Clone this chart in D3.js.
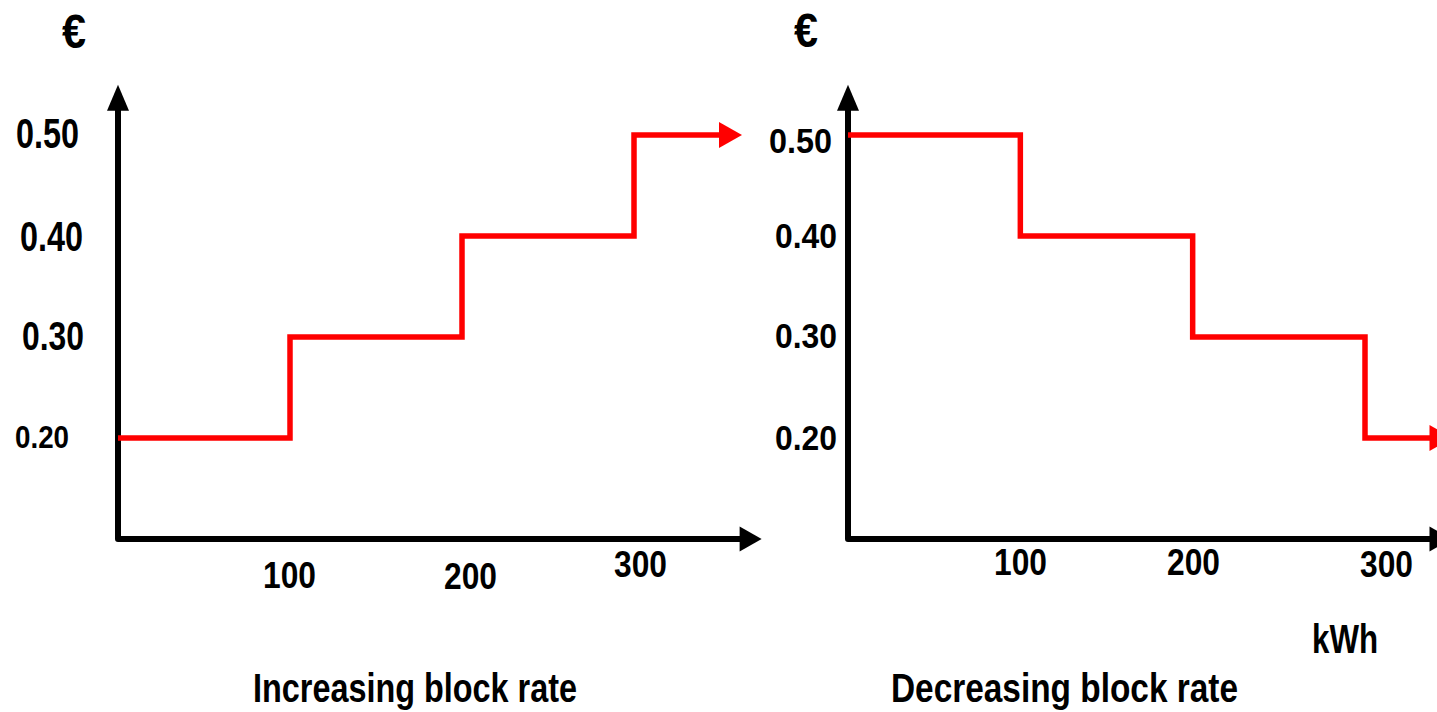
<!DOCTYPE html>
<html>
<head>
<meta charset="utf-8">
<script src="https://cdn.jsdelivr.net/npm/d3@7"></script>
<style>
  html, body { margin: 0; padding: 0; background: #fff; }
  svg { display: block; }
  text { font-family: "Liberation Sans Narrow", "Liberation Sans", Arial, sans-serif; font-weight: bold; fill: #000; }
</style>
</head>
<body>
<svg id="chart" width="1437" height="712"></svg>
<script>
// ---------------- DATA ----------------
const blockStarts = [0, 100, 200, 300];            // kWh where each block begins
const increasingRates = [0.20, 0.30, 0.40, 0.50];  // €/kWh per block
const decreasingRates = [0.50, 0.40, 0.30, 0.20];  // €/kWh per block
const increasingEnd = 350;                         // kWh where the last block line ends (arrow)
const decreasingEnd = 338;
const xTickValues = [100, 200, 300];
const yTickValues = [0.50, 0.40, 0.30, 0.20];
const xTickLabels = ["100", "200", "300"];
const yTickLabels = ["0.50", "0.40", "0.30", "0.20"];
const panelTitles = ["Increasing block rate", "Decreasing block rate"];
const yUnit = "€";
const xUnit = "kWh";

// ---------------- LAYOUT ----------------
const svg = d3.select("#chart");
const y = d3.scaleLinear().domain([0.1, 0.5]).range([539, 135]);

const panels = [
  {
    rates: increasingRates, end: increasingEnd,
    x: d3.scaleLinear().domain([0, 300]).range([118, 634]),
    xAxisEnd: 362, yAxisEnd: 0.525,
    title: { x: 253, y: 702, w: 324 },
    unit: { x: 62, y: 48, w: 24 },
    yLab: [ {dx: 79, dy: 13, s: 42, w: 63}, {dx: 83, dy: 15, s: 42, w: 63},
            {dx: 84, dy: 13, s: 41, w: 62}, {dx: 69, dy: 10, s: 32, w: 54} ],
    xLab: [ {cx: 290, by: 588}, {cx: 471, by: 589}, {cx: 641, by: 577} ]
  },
  {
    rates: decreasingRates, end: decreasingEnd,
    x: d3.scaleLinear().domain([0, 300]).range([848, 1365]),
    xAxisEnd: 338, yAxisEnd: 0.525,
    title: { x: 891, y: 702, w: 347 },
    unit: { x: 794, y: 47, w: 24 },
    yLab: [ {dx: 832, dy: 18, s: 35, w: 63}, {dx: 837, dy: 12, s: 35, w: 62},
            {dx: 837, dy: 11, s: 35, w: 62}, {dx: 837, dy: 12, s: 35, w: 62} ],
    xLab: [ {cx: 1021, by: 575}, {cx: 1194, by: 575}, {cx: 1387, by: 577} ]
  }
];

panels.forEach(p => {
  const g = svg.append("g");
  const x = p.x;

  // red step line
  const pts = blockStarts.map((b, i) => ({ k: b, v: p.rates[i] }));
  pts.push({ k: p.end, v: p.rates[p.rates.length - 1] });
  const step = d3.line().x(d => x(d.k)).y(d => y(d.v)).curve(d3.curveStepAfter);

  // axes (L-shaped with rounded corner)
  const axisLine = d3.line().x(d => x(d[0])).y(d => y(d[1]));
  g.append("path")
    .attr("d", axisLine([[0, p.yAxisEnd], [0, 0.1], [p.xAxisEnd, 0.1]]))
    .attr("fill", "none").attr("stroke", "#000").attr("stroke-width", 6)
    .attr("stroke-linejoin", "round");
  // y arrowhead
  const ax = x(0), ay = y(p.yAxisEnd);
  g.append("path").attr("d", `M${ax - 11},${ay + 1}L${ax + 11},${ay + 1}L${ax},${ay - 25}Z`).attr("fill", "#000");
  // x arrowhead
  const bx = x(p.xAxisEnd), by = y(0.1);
  g.append("path").attr("d", `M${bx - 1},${by - 12.5}L${bx - 1},${by + 12.5}L${bx + 21},${by}Z`).attr("fill", "#000");

  g.append("path")
    .attr("d", step(pts))
    .attr("fill", "none").attr("stroke", "#ff0000").attr("stroke-width", 5.5)
    .attr("stroke-linejoin", "miter");
  // red arrowhead
  const rx = x(p.end), ry = y(p.rates[p.rates.length - 1]);
  g.append("path").attr("d", `M${rx - 1},${ry - 13}L${rx - 1},${ry + 13}L${rx + 22},${ry}Z`).attr("fill", "#ff0000");

  // y tick labels
  yTickValues.forEach((v, i) => {
    const L = p.yLab[i];
    g.append("text").text(yTickLabels[i])
      .attr("x", L.dx - L.w).attr("y", y(v) + L.dy)
      .attr("font-size", L.s)
      .attr("textLength", L.w).attr("lengthAdjust", "spacingAndGlyphs");
  });
  // x tick labels
  xTickValues.forEach((v, i) => {
    const L = p.xLab[i];
    g.append("text").text(xTickLabels[i])
      .attr("x", L.cx - 27).attr("y", L.by)
      .attr("font-size", 37.5)
      .attr("textLength", 53).attr("lengthAdjust", "spacingAndGlyphs");
  });
  // euro unit
  g.append("text").text(yUnit)
    .attr("x", p.unit.x).attr("y", p.unit.y)
    .attr("font-size", 48)
    .attr("textLength", p.unit.w).attr("lengthAdjust", "spacingAndGlyphs");
  // title
  const ti = panels.indexOf(p);
  g.append("text").text(panelTitles[ti])
    .attr("x", p.title.x).attr("y", p.title.y)
    .attr("font-size", 40)
    .attr("textLength", p.title.w).attr("lengthAdjust", "spacingAndGlyphs");
});

// kWh unit
svg.append("text").text(xUnit)
  .attr("x", 1312).attr("y", 653)
  .attr("font-size", 41)
  .attr("textLength", 66).attr("lengthAdjust", "spacingAndGlyphs");
</script>
</body>
</html>
